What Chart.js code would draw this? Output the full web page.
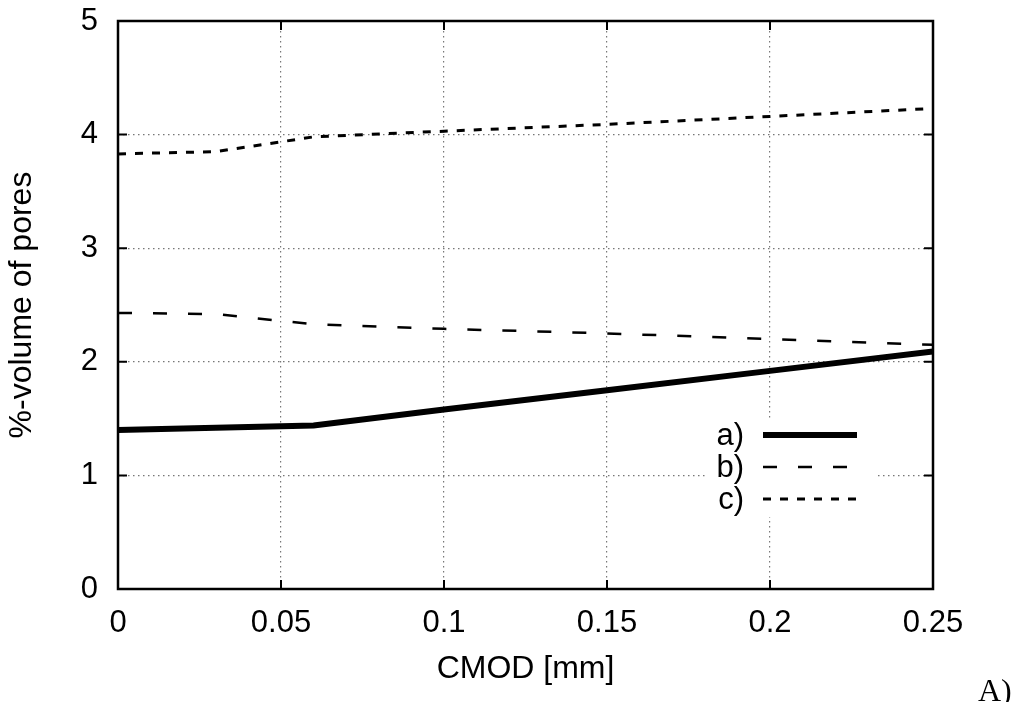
<!DOCTYPE html>
<html>
<head>
<meta charset="utf-8">
<script src="https://cdn.jsdelivr.net/npm/chart.js@4"></script>
<style>
  html, body { margin: 0; padding: 0; background: #fff; }
  #wrap { position: relative; width: 1018px; height: 702px; }
</style>
</head>
<body>
<div id="wrap"><canvas id="c"></canvas></div>
<script>
// ---- data ----
const cmod = [0, 0.03, 0.06, 0.1, 0.15, 0.2, 0.25];
const seriesA = [1.40, 1.42, 1.44, 1.58, 1.75, 1.92, 2.09];
const seriesB = [2.43, 2.42, 2.33, 2.29, 2.25, 2.20, 2.15];
const seriesC = [3.83, 3.85, 3.98, 4.03, 4.09, 4.16, 4.23];
const seriesLabels = ['a)', 'b)', 'c)'];
const xTitle = 'CMOD [mm]';
const yTitle = '%-volume of pores';
const panelLabel = 'A)';

const FONT = '"Liberation Sans", Arial, Helvetica, sans-serif';

function pts(vals) { return cmod.map((x, i) => ({ x: x, y: vals[i] })); }

const frameAndLegend = {
  id: 'frameAndLegend',
  afterDraw(chart) {
    const { ctx, chartArea: a, scales } = chart;
    ctx.save();
    ctx.strokeStyle = '#000';
    ctx.lineWidth = 2;
    ctx.setLineDash([]);
    const tl = 9;
    scales.x.ticks.forEach(t => {
      const px = scales.x.getPixelForValue(t.value);
      ctx.beginPath();
      ctx.moveTo(px, a.bottom); ctx.lineTo(px, a.bottom - tl);
      ctx.moveTo(px, a.top); ctx.lineTo(px, a.top + tl);
      ctx.stroke();
    });
    scales.y.ticks.forEach(t => {
      const py = scales.y.getPixelForValue(t.value);
      ctx.beginPath();
      ctx.moveTo(a.left, py); ctx.lineTo(a.left + tl, py);
      ctx.moveTo(a.right, py); ctx.lineTo(a.right - tl, py);
      ctx.stroke();
    });
    ctx.lineWidth = 2.5;
    ctx.strokeRect(a.left, a.top, a.right - a.left, a.bottom - a.top);

    // legend inside plot
    const boxL = 705, boxT = 418, boxW = 170, boxH = 99;
    ctx.fillStyle = '#fff';
    ctx.fillRect(boxL, boxT, boxW, boxH);
    const rowY = [435, 467, 499];
    ctx.font = '31px ' + FONT;
    ctx.textAlign = 'right';
    ctx.textBaseline = 'middle';
    chart.data.datasets.forEach((ds, i) => {
      ctx.fillStyle = '#000';
      ctx.fillText(ds.label, 744, rowY[i] + 1);
      ctx.beginPath();
      ctx.strokeStyle = ds.borderColor;
      ctx.lineWidth = ds.borderWidth;
      ctx.setLineDash(ds.borderDash || []);
      ctx.lineCap = 'butt';
      ctx.moveTo(763, rowY[i]);
      ctx.lineTo(857, rowY[i]);
      ctx.stroke();
    });
    ctx.setLineDash([]);

    ctx.fillStyle = '#000';
    ctx.font = '32px "Liberation Serif", "Times New Roman", serif';
    ctx.textAlign = 'left';
    ctx.textBaseline = 'alphabetic';
    ctx.fillText(panelLabel, 978, 701);
    ctx.restore();
  }
};

new Chart(document.getElementById('c'), {
  type: 'line',
  data: {
    datasets: [
      { label: seriesLabels[0], data: pts(seriesA), borderColor: '#000', borderWidth: 6, pointRadius: 0, tension: 0, fill: false },
      { label: seriesLabels[1], data: pts(seriesB), borderColor: '#000', borderWidth: 2.5, borderDash: [14, 21], pointRadius: 0, tension: 0, fill: false },
      { label: seriesLabels[2], data: pts(seriesC), borderColor: '#000', borderWidth: 3, borderDash: [8, 9], pointRadius: 0, tension: 0, fill: false }
    ]
  },
  options: {
    responsive: true,
    maintainAspectRatio: false,
    devicePixelRatio: 1,
    animation: false,
    layout: { padding: { left: 0, top: 21, right: 85, bottom: 0 } },
    plugins: { legend: { display: false }, tooltip: { enabled: false } },
    scales: {
      x: {
        type: 'linear',
        min: 0, max: 0.25,
        ticks: { stepSize: 0.05, color: '#000', padding: 16, font: { family: FONT, size: 31 },
                 callback: v => String(Math.round(v * 100) / 100) },
        grid: { color: '#777', lineWidth: 1.2, drawTicks: false },
        border: { display: false, dash: [1.5, 3.5] },
        title: { display: true, text: xTitle, color: '#000', font: { family: FONT, size: 32 }, padding: { top: 0, bottom: 14 } },
        afterFit: s => { s.height = 113; s.paddingLeft = 0; s.paddingRight = 0; }
      },
      y: {
        min: 0, max: 5,
        ticks: { stepSize: 1, color: '#000', padding: 20, font: { family: FONT, size: 31 } },
        grid: { color: '#777', lineWidth: 1.2, drawTicks: false },
        border: { display: false, dash: [1.5, 3.5] },
        title: { display: true, text: yTitle, color: '#000', font: { family: FONT, size: 32 }, padding: { top: 3, bottom: 0 } },
        afterFit: s => { s.width = 118; s.paddingTop = 0; s.paddingBottom = 0; }
      }
    }
  },
  plugins: [frameAndLegend]
});
</script>
</body>
</html>
